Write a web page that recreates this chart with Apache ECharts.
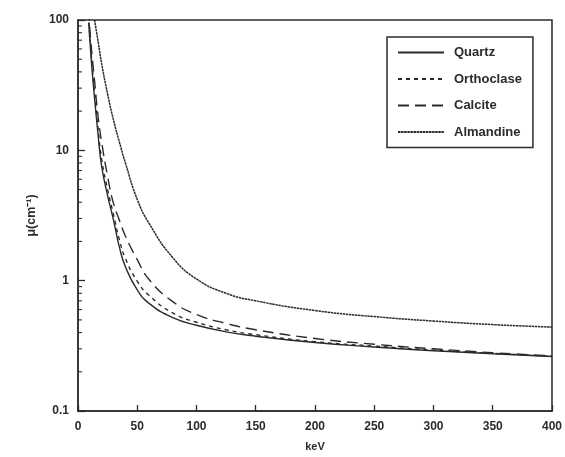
<!DOCTYPE html>
<html>
<head>
<meta charset="utf-8">
<script src="https://cdn.jsdelivr.net/npm/echarts@6/dist/echarts.min.js"></script>
<style>
html,body{margin:0;padding:0;background:#fff;}
#chart{width:565px;height:457px;}
</style>
</head>
<body>
<div id="chart"></div>
<script>
// energies (keV)
const energies = [9, 10, 12, 14, 17, 20, 25, 30, 35, 40, 50, 60, 80, 100, 125, 150, 200, 250, 300, 350, 400];
// linear attenuation coefficients mu (cm^-1)
const quartz     = [95, 70, 40, 25, 13, 7.5, 4.5, 2.9, 1.8, 1.28, 0.85, 0.67, 0.52, 0.455, 0.405, 0.375, 0.335, 0.31, 0.29, 0.275, 0.262];
const orthoclase = [110, 75, 44, 28, 14.5, 8.5, 5.0, 3.2, 2.05, 1.48, 0.99, 0.77, 0.565, 0.48, 0.42, 0.385, 0.34, 0.315, 0.293, 0.277, 0.262];
const calcite    = [120, 85, 52, 34, 18, 11.5, 6.3, 3.9, 2.9, 2.2, 1.45, 1.02, 0.69, 0.55, 0.47, 0.42, 0.36, 0.325, 0.30, 0.28, 0.265];
const almandine  = [null, null, null, 100, 68, 46, 27, 17, 11.5, 8, 4.2, 2.75, 1.5, 1.03, 0.8, 0.7, 0.59, 0.53, 0.49, 0.46, 0.44];
const seriesNames = ['Quartz', 'Orthoclase', 'Calcite', 'Almandine'];
const xTicks = [0, 50, 100, 150, 200, 250, 300, 350, 400];
const yMajorTicks = [0.1, 1, 10, 100];
const yMinorTicks = [0.2, 0.3, 0.4, 0.5, 0.6, 0.7, 0.8, 0.9, 2, 3, 4, 5, 6, 7, 8, 9, 20, 30, 40, 50, 60, 70, 80, 90];

const pairs = (vals) => energies.map((e, i) => [e, vals[i]]);
const ink = '#2b2b2b';
const font = 'Liberation Sans, Arial, sans-serif';

const chart = echarts.init(document.getElementById('chart'), null, {renderer: 'canvas'});
chart.setOption({
  animation: false,
  backgroundColor: '#ffffff',
  grid: {left: 78, right: 9, top: 20, bottom: 43, show: true, borderColor: ink, borderWidth: 1.5, backgroundColor: 'transparent'},
  legend: {
    data: seriesNames,
    orient: 'vertical',
    left: 387, top: 37,
    padding: [9, 11, 9, 10],
    itemWidth: 46, itemHeight: 14, itemGap: 13.5,
    borderColor: ink, borderWidth: 1.5,
    backgroundColor: '#fff',
    itemStyle: {opacity: 0},
    textStyle: {fontFamily: font, fontSize: 13, fontWeight: 'bold', color: ink, padding: [0, 0, 0, 5]}
  },
  xAxis: {
    type: 'value', min: 0, max: 400, interval: 50,
    name: 'keV', nameLocation: 'middle', nameGap: 30,
    nameTextStyle: {fontFamily: font, fontSize: 11, fontWeight: 'bold', color: ink},
    axisLine: {show: true, lineStyle: {color: ink, width: 1.5}},
    axisTick: {show: true, inside: true, length: 6, lineStyle: {color: ink, width: 1.3}},
    axisLabel: {fontFamily: font, fontSize: 12, fontWeight: 'bold', color: ink, margin: 10,
      formatter: v => xTicks.includes(v) ? String(v) : ''},
    splitLine: {show: false}
  },
  yAxis: {
    type: 'log', logBase: 10, min: 0.1, max: 100,
    name: 'μ(cm⁻¹)', nameLocation: 'middle', nameGap: 37,
    nameTextStyle: {fontFamily: font, fontSize: 12.5, fontWeight: 'bold', color: ink},
    axisLine: {show: true, lineStyle: {color: ink, width: 1.5}},
    axisTick: {show: true, inside: true, length: 7, lineStyle: {color: ink, width: 1.3}},
    axisLabel: {fontFamily: font, fontSize: 12, fontWeight: 'bold', color: ink, margin: 9,
      formatter: v => { const t = yMajorTicks.find(m => Math.abs(m - v) / m < 1e-6); return t === undefined ? '' : String(t); }},
    splitLine: {show: false}
  },
  series: [
    {name: 'Quartz', type: 'line', data: pairs(quartz), symbol: 'none', smooth: 0.5, clip: true,
      lineStyle: {color: ink, width: 1.4, type: 'solid'}, itemStyle: {color: ink}},
    {name: 'Orthoclase', type: 'line', data: pairs(orthoclase), symbol: 'none', smooth: 0.5, clip: true,
      lineStyle: {color: ink, width: 1.4, type: [4, 4]}, itemStyle: {color: ink}},
    {name: 'Calcite', type: 'line', data: pairs(calcite), symbol: 'none', smooth: 0.5, clip: true,
      lineStyle: {color: ink, width: 1.4, type: [11, 6]}, itemStyle: {color: ink}},
    {name: 'Almandine', type: 'line', data: pairs(almandine), symbol: 'none', smooth: 0.5, clip: true, connectNulls: false,
      lineStyle: {color: ink, width: 1.5, type: [2.5, 0.6]}, itemStyle: {color: ink}},
    {type: 'custom', silent: true, clip: false, z: 5,
      data: yMinorTicks.map(v => [0, v]),
      renderItem: (params, api) => {
        const p = api.coord([0, api.value(1)]);
        return {type: 'line', shape: {x1: p[0], y1: p[1], x2: p[0] + 4, y2: p[1]}, style: {stroke: ink, lineWidth: 1.1}};
      }}
  ]
});
</script>
</body>
</html>
